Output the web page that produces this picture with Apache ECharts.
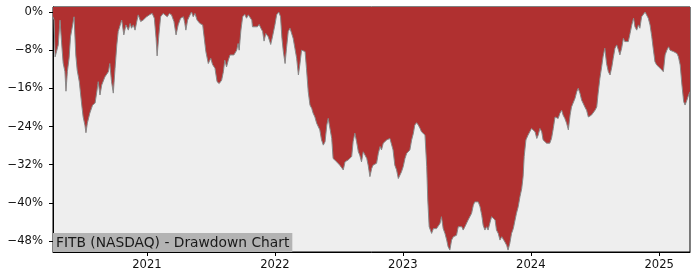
<!DOCTYPE html>
<html>
<head>
<meta charset="utf-8">
<script src="https://cdn.jsdelivr.net/npm/echarts@6/dist/echarts.min.js"></script>
<style>html,body{margin:0;padding:0;background:#fff}#c{width:700px;height:280px}</style>
</head>
<body>
<div id="c"></div>
<script>
const dates = ['2020-04-08','2020-04-11','2020-04-14','2020-04-18','2020-04-23','2020-04-28','2020-05-03','2020-05-07','2020-05-12','2020-05-15','2020-05-19','2020-05-24','2020-05-28','2020-06-03','2020-06-07','2020-06-12','2020-06-16','2020-06-22','2020-06-29','2020-07-03','2020-07-08','2020-07-11','2020-07-15','2020-07-22','2020-07-30','2020-08-06','2020-08-11','2020-08-15','2020-08-20','2020-08-25','2020-08-29','2020-09-03','2020-09-08','2020-09-13','2020-09-17','2020-09-22','2020-09-27','2020-10-02','2020-10-07','2020-10-11','2020-10-16','2020-10-21','2020-10-27','2020-11-02','2020-11-09','2020-11-14','2020-11-18','2020-11-23','2020-11-28','2020-12-03','2020-12-07','2020-12-14','2020-12-21','2020-12-31',
'2021-01-10','2021-01-16','2021-01-22','2021-01-27','2021-01-30','2021-02-04','2021-02-09','2021-02-16','2021-02-21','2021-02-28','2021-03-06','2021-03-12','2021-03-19','2021-03-25','2021-03-31','2021-04-07','2021-04-15','2021-04-19','2021-04-22','2021-04-27','2021-05-04','2021-05-08','2021-05-13','2021-05-18','2021-05-24','2021-06-01','2021-06-09','2021-06-13','2021-06-18','2021-06-25','2021-07-02','2021-07-07','2021-07-14','2021-07-20','2021-07-26','2021-08-02','2021-08-07','2021-08-11','2021-08-16','2021-08-21','2021-08-26','2021-08-31','2021-09-06','2021-09-14','2021-09-18','2021-09-21','2021-09-26','2021-10-01','2021-10-07','2021-10-12','2021-10-17','2021-10-22','2021-10-27','2021-10-29','2021-11-05','2021-11-12','2021-11-17','2021-11-22','2021-11-27','2021-12-01','2021-12-06','2021-12-13','2021-12-20','2021-12-25',
'2022-01-01','2022-01-06','2022-01-12','2022-01-17','2022-01-21','2022-01-25','2022-01-30','2022-02-03','2022-02-08','2022-02-13','2022-02-18','2022-02-22','2022-02-27','2022-03-04','2022-03-09','2022-03-13','2022-03-18','2022-03-23','2022-03-28','2022-04-01','2022-04-06','2022-04-11','2022-04-16','2022-04-20','2022-04-25','2022-04-30','2022-05-05','2022-05-09','2022-05-14','2022-05-19','2022-05-24','2022-05-29','2022-06-02','2022-06-07','2022-06-12','2022-06-16','2022-06-21','2022-06-26','2022-07-01','2022-07-05','2022-07-10','2022-07-15','2022-07-20','2022-07-25','2022-07-29','2022-08-03','2022-08-08','2022-08-12','2022-08-17','2022-08-22','2022-08-27','2022-08-31','2022-09-05','2022-09-10','2022-09-15','2022-09-20','2022-09-24','2022-09-29','2022-10-04','2022-10-08','2022-10-13','2022-10-18','2022-10-23','2022-10-28','2022-11-01','2022-11-06','2022-11-11','2022-11-16','2022-11-20','2022-11-25','2022-11-30','2022-12-04','2022-12-09','2022-12-14','2022-12-19','2022-12-24','2022-12-28',
'2023-01-02','2023-01-07','2023-01-12','2023-01-16','2023-01-21','2023-01-26','2023-01-31','2023-02-04','2023-02-09','2023-02-14','2023-02-19','2023-02-23','2023-02-28','2023-03-05','2023-03-10','2023-03-13','2023-03-17','2023-03-21','2023-03-24','2023-03-29','2023-04-02','2023-04-07','2023-04-12','2023-04-17','2023-04-21','2023-04-26','2023-05-01','2023-05-06','2023-05-10','2023-05-15','2023-05-20','2023-05-25','2023-05-29','2023-06-03','2023-06-08','2023-06-13','2023-06-18','2023-06-22','2023-06-27','2023-07-02','2023-07-06','2023-07-11','2023-07-16','2023-07-21','2023-07-25','2023-07-30','2023-08-04','2023-08-09','2023-08-14','2023-08-18','2023-08-23','2023-08-28','2023-09-01','2023-09-06','2023-09-11','2023-09-16','2023-09-21','2023-09-25','2023-09-30','2023-10-05','2023-10-10','2023-10-14','2023-10-19','2023-10-24','2023-10-28','2023-11-02','2023-11-07','2023-11-12','2023-11-17','2023-11-21','2023-11-26','2023-12-01','2023-12-06','2023-12-10','2023-12-13','2023-12-18','2023-12-24','2023-12-29',
'2024-01-03','2024-01-08','2024-01-13','2024-01-18','2024-01-22','2024-01-27','2024-02-01','2024-02-05','2024-02-10','2024-02-15','2024-02-20','2024-02-24','2024-02-29','2024-03-05','2024-03-10','2024-03-14','2024-03-19','2024-03-24','2024-03-29','2024-04-02','2024-04-07','2024-04-12','2024-04-17','2024-04-22','2024-04-26','2024-05-01','2024-05-06','2024-05-11','2024-05-15','2024-05-20','2024-05-25','2024-05-29','2024-06-03','2024-06-08','2024-06-13','2024-06-17','2024-06-22','2024-06-27','2024-07-02','2024-07-07','2024-07-11','2024-07-16','2024-07-21','2024-07-25','2024-07-30','2024-08-04','2024-08-09','2024-08-14','2024-08-19','2024-08-23','2024-08-28','2024-09-02','2024-09-07','2024-09-11','2024-09-16','2024-09-21','2024-09-25','2024-09-30','2024-10-05','2024-10-10','2024-10-15','2024-10-20','2024-10-24','2024-10-29','2024-11-03','2024-11-07','2024-11-12','2024-11-17','2024-11-22','2024-11-26','2024-12-01','2024-12-06','2024-12-11','2024-12-15','2024-12-20','2024-12-25','2024-12-30',
'2025-01-04','2025-01-08','2025-01-13','2025-01-18','2025-01-23','2025-01-28','2025-02-01','2025-02-06','2025-02-11','2025-02-16','2025-02-21','2025-02-25','2025-03-02','2025-03-07','2025-03-12','2025-03-16','2025-03-21','2025-03-26','2025-03-30'];

const drawdown = [-1.0,-1.7,-9.4,-8.3,-6.9,-1.7,-6.9,-10.7,-12.5,-16.6,-12.5,-9.6,-5.2,-2.7,-1.0,-9.0,-12.2,-14.6,-19.5,-22.0,-23.7,-25.3,-23.3,-21.2,-19.5,-19.1,-16.7,-14.6,-17.4,-15.3,-15.3,-13.6,-13.2,-12.5,-10.8,-14.6,-17.0,-11.8,-6.9,-4.1,-3.8,-1.7,-4.8,-2.7,-3.8,-2.4,-3.4,-2.7,-3.8,-2.0,-0.6,-2.0,-1.7,-1.0,
-0.5,-0.3,-1.3,-5.5,-9.2,-4.8,-1.0,-0.3,0,-1.0,-0.3,-0.6,-2.0,-4.8,-2.7,-1.3,-1.0,-2.4,-3.8,-1.7,-0.6,0,-1.0,-0.3,-1.7,-2.4,-2.7,-5.2,-8.3,-10.8,-9.7,-11.0,-11.8,-14.6,-15.0,-14.3,-12.5,-10.1,-11.5,-10.1,-9.0,-9.4,-9.0,-8.0,-6.6,-8.0,-3.8,-1.0,-0.5,-1.3,-0.6,-0.5,-1.7,-3.1,-3.1,-3.1,-2.6,-3.4,-4.1,-6.1,-4.5,-5.2,-6.8,-5.2,
-2.7,-0.6,0,-1.0,-5.5,-8.3,-10.8,-7.6,-4.1,-3.4,-3.1,-5.5,-7.6,-9.7,-13.2,-11.1,-8.0,-7.6,-8.3,-11.8,-16.7,-19.5,-20.2,-21.2,-22.0,-23.3,-23.0,-24.7,-26.8,-27.9,-27.2,-23.7,-22.3,-22.0,-26.5,-30.7,-31.0,-31.4,-31.0,-32.1,-31.7,-33.1,-31.4,-31.7,-31.0,-31.4,-30.3,-27.2,-25.4,-27.2,-29.3,-30.0,-31.4,-29.3,-28.9,-30.7,-32.1,-34.5,-32.8,-32.1,-32.4,-31.7,-29.6,-28.2,-28.9,-27.5,-27.9,-26.8,-27.2,-26.5,-26.8,-28.9,-32.1,-33.1,-34.9,-34.5,-33.5,
-32.4,-30.7,-29.6,-30.0,-28.9,-26.8,-25.4,-23.7,-23.2,-23.7,-24.4,-25.1,-25.4,-25.8,-32.4,-39.4,-45.0,-45.4,-46.4,-45.4,-45.7,-45.4,-45.0,-44.3,-42.9,-45.4,-46.4,-47.8,-49.2,-49.9,-47.8,-47.1,-47.4,-46.8,-45.0,-45.4,-45.0,-45.7,-45.0,-44.7,-43.6,-43.3,-42.2,-40.5,-39.8,-39.4,-39.8,-40.8,-42.6,-44.7,-45.7,-45.0,-45.7,-44.3,-42.9,-42.6,-43.6,-45.7,-46.4,-47.8,-47.1,-47.4,-48.2,-48.9,-49.9,-48.5,-46.4,-45.4,-43.6,-42.2,-40.8,-38.7,-37.0,-34.5,-30.3,-26.8,-25.8,-25.4,
-24.4,-24.1,-25.1,-26.5,-25.8,-24.4,-25.1,-26.8,-27.2,-27.5,-27.2,-27.5,-26.5,-24.4,-22.0,-21.6,-22.3,-21.2,-20.6,-21.6,-22.3,-23.3,-24.7,-21.6,-19.9,-19.5,-18.1,-16.7,-16.0,-17.0,-18.5,-19.1,-19.9,-20.6,-22.0,-22.3,-21.6,-21.2,-20.6,-19.9,-17.0,-13.9,-11.5,-9.4,-7.6,-10.8,-12.5,-13.2,-11.5,-9.7,-7.6,-6.9,-8.0,-9.0,-7.6,-5.5,-6.2,-6.6,-6.2,-4.5,-2.7,-1.3,-3.1,-3.8,-2.7,-3.4,-1.0,-0.6,0,-0.6,-1.3,-2.7,-5.2,-7.6,-10.4,-11.1,-11.5,
-11.8,-12.2,-12.5,-9.0,-8.0,-7.3,-8.0,-7.6,-8.3,-8.0,-8.7,-9.4,-11.1,-15.3,-18.8,-19.5,-18.5,-17.4,-16.7];

const yTicks = [0, -8, -16, -24, -32, -40, -48];
const xTickYears = [2021, 2022, 2023, 2024, 2025];
const titleText = 'FITB (NASDAQ) - Drawdown Chart';

function toTime(s) {
  const p = s.split('-').map(Number);
  return new Date(p[0], p[1] - 1, p[2]).getTime();
}
const seriesData = dates.map((d, i) => [toTime(d), drawdown[i]]);
const xTicks = xTickYears.map(y => new Date(y, 0, 1).getTime());
const font = 'DejaVu Sans';

const chart = echarts.init(document.getElementById('c'), null, {renderer: 'canvas'});
chart.setOption({
  animation: false,
  title: {
    text: titleText,
    left: 53, bottom: 28,
    backgroundColor: '#b3b3b3',
    padding: [2, 3, 1, 3],
    textStyle: {fontFamily: font, fontSize: 13.8, fontWeight: 'normal', color: '#1a1a1a', lineHeight: 16},
    z: 10
  },
  grid: {
    left: 53, right: 10, top: 7, bottom: 28,
    show: true, backgroundColor: '#eeeeee', borderColor: '#000', borderWidth: 1,
    containLabel: false
  },
  xAxis: {
    type: 'value',
    min: toTime(dates[0]), max: toTime(dates[dates.length - 1]),
    axisLine: {show: true, onZero: false, lineStyle: {color: '#000', width: 1}},
    axisTick: {show: true, length: 4, lineStyle: {color: '#000'}, customValues: xTicks},
    axisLabel: {
      customValues: xTicks, margin: 7,
      fontFamily: font, fontSize: 11.6, color: '#111',
      formatter: v => String(new Date(v).getFullYear())
    },
    splitLine: {show: false}
  },
  yAxis: {
    type: 'value',
    min: -50.3, max: 1.05,
    axisLine: {show: true, onZero: false, lineStyle: {color: '#000', width: 1}},
    axisTick: {show: true, length: 4, lineStyle: {color: '#000'}, customValues: yTicks},
    axisLabel: {
      customValues: yTicks, margin: 10,
      fontFamily: font, fontSize: 11.6, color: '#111',
      formatter: v => (v === 0 ? '0%' : '\u2212' + Math.abs(v) + '%')
    },
    splitLine: {show: false}
  },
  series: [{
    type: 'line',
    data: seriesData,
    showSymbol: false,
    lineStyle: {color: '#888888', width: 1},
    areaStyle: {color: '#b03030', opacity: 1, origin: 'end'},
    z: 2
  }]
});
</script>
</body>
</html>
